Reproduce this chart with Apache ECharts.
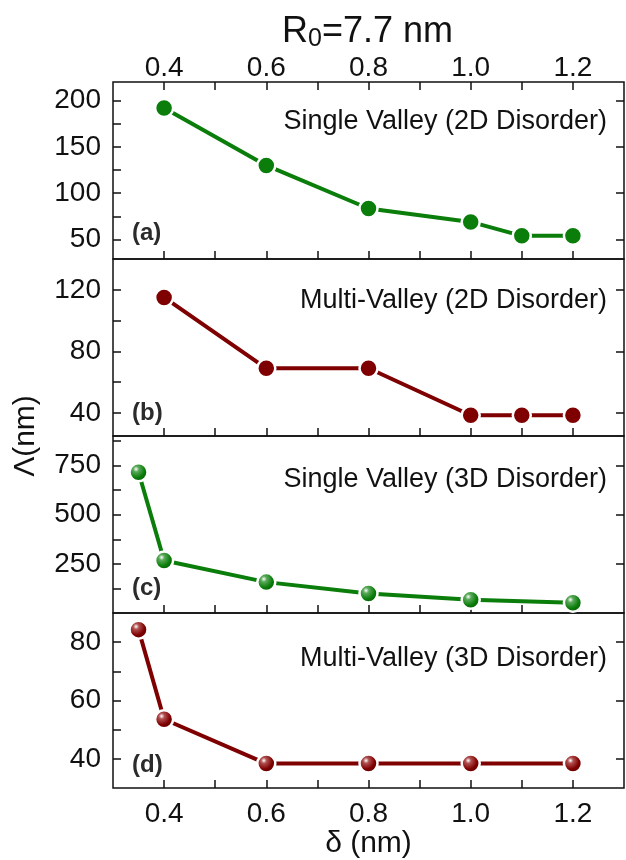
<!DOCTYPE html>
<html>
<head>
<meta charset="utf-8">
<script src="https://cdn.jsdelivr.net/npm/echarts@6/dist/echarts.min.js"></script>
<style>
  html, body { margin: 0; padding: 0; background: #fff; }
  #chart { width: 626px; height: 860px; }
</style>
</head>
<body>
<div id="chart"></div>
<script>
// data
var deltaAB = [0.4, 0.6, 0.8, 1.0, 1.1, 1.2];
var deltaCD = [0.35, 0.4, 0.6, 0.8, 1.0, 1.2];
var lambdaA = [192, 130, 83.5, 69, 54, 54];
var lambdaB = [115, 69, 69, 38.5, 38.5, 38.5];
var lambdaC = [716, 267, 157, 99, 67, 52];
var lambdaD = [84.3, 53.6, 38.4, 38.4, 38.4, 38.4];

var xTicks = [0.4, 0.5, 0.6, 0.7, 0.8, 0.9, 1.0, 1.1, 1.2];
var xLabels = [0.4, 0.6, 0.8, 1.0, 1.2];

var yMinA = 29, yMaxA = 220;
var yMinB = 25, yMaxB = 140;
var yMinC = 0, yMaxC = 900;
var yMinD = 30, yMaxD = 90;

var yTicksA = [50, 75, 100, 125, 150, 175, 200], yLabelsA = [50, 100, 150, 200];
var yTicksB = [40, 60, 80, 100, 120], yLabelsB = [40, 80, 120];
var yTicksC = [125, 250, 375, 500, 625, 750, 875], yLabelsC = [250, 500, 750];
var yTicksD = [40, 50, 60, 70, 80], yLabelsD = [40, 60, 80];

var panelNames = ['Single Valley (2D Disorder)', 'Multi-Valley (2D Disorder)',
                  'Single Valley (3D Disorder)', 'Multi-Valley (3D Disorder)'];
var panelLetters = ['(a)', '(b)', '(c)', '(d)'];

var FONT = '"Liberation Sans", Arial, Helvetica, sans-serif';
var GREEN = '#0a7d0a', RED = '#7f0000';
var tops = [82, 259, 436, 613];
var H = 177;

var panels = [
  { x: deltaAB, y: lambdaA, min: yMinA, max: yMaxA, ticks: yTicksA, labels: yLabelsA, color: GREEN, gloss: false },
  { x: deltaAB, y: lambdaB, min: yMinB, max: yMaxB, ticks: yTicksB, labels: yLabelsB, color: RED, gloss: false },
  { x: deltaCD, y: lambdaC, min: yMinC, max: yMaxC, ticks: yTicksC, labels: yLabelsC, color: GREEN, gloss: true },
  { x: deltaCD, y: lambdaD, min: yMinD, max: yMaxD, ticks: yTicksD, labels: yLabelsD, color: RED, gloss: true }
];

function fmtX(v) { return (Math.round(v * 10) / 10).toFixed(1); }

var grid = [], xAxis = [], yAxis = [], series = [], graphic = [];

panels.forEach(function (p, i) {
  grid.push({ left: 113, width: 511, top: tops[i], height: H, show: true,
              borderColor: '#111', borderWidth: 1.5, backgroundColor: 'transparent' });
  xAxis.push({
    type: 'value', gridIndex: i, min: 0.3, max: 1.3, position: 'bottom',
    axisLine: { show: false }, splitLine: { show: false },
    axisTick: { inside: true, length: 8, customValues: xTicks, lineStyle: { color: '#111', width: 1.5 } },
    axisLabel: { show: i === 3, customValues: xLabels, formatter: fmtX, margin: 12,
                 fontSize: 28, fontFamily: FONT, color: '#111' },
    name: i === 3 ? 'δ (nm)' : '', nameLocation: 'middle', nameGap: 38,
    nameTextStyle: { fontSize: 30, fontFamily: FONT, color: '#111' }
  });
  yAxis.push({
    type: 'value', gridIndex: i, min: p.min, max: p.max, position: 'left',
    axisLine: { show: false }, splitLine: { show: false },
    axisTick: { inside: true, length: 8, customValues: p.ticks, lineStyle: { color: '#111', width: 1.5 } },
    axisLabel: { customValues: p.labels, margin: 12, fontSize: 28, fontFamily: FONT, color: '#111' }
  });

  var fill = p.color;
  if (p.gloss) {
    fill = { type: 'radial', x: 0.38, y: 0.35, r: 0.7,
             colorStops: [{ offset: 0, color: '#ffffff' }, { offset: 0.2, color: p.color === GREEN ? '#5aa95a' : '#b05050' },
                          { offset: 0.6, color: p.color }, { offset: 1, color: p.color === GREEN ? '#065406' : '#520000' }] };
  }
  series.push({
    type: 'line', xAxisIndex: i, yAxisIndex: i,
    data: p.x.map(function (d, k) { return [d, p.y[k]]; }),
    symbol: 'circle', symbolSize: 18, showSymbol: true,
    lineStyle: { color: p.color, width: 4 },
    itemStyle: { color: fill, borderColor: '#fff', borderWidth: 2.5 },
    emphasis: { disabled: true }, animation: false
  });

  graphic.push({
    type: 'text', x: 607, y: tops[i] + 40 + i * 2,
    style: { text: panelNames[i], font: '27px ' + FONT, fill: '#111',
             align: 'right', verticalAlign: 'middle', textAlign: 'right', textVerticalAlign: 'middle' }
  });
  graphic.push({
    type: 'text', x: 132, y: [233, 413, 588, 765][i],
    style: { text: panelLetters[i], font: 'bold 24px ' + FONT, fill: '#2b2b2b',
             align: 'left', verticalAlign: 'middle', textAlign: 'left', textVerticalAlign: 'middle' }
  });
});

// right-hand axes: major ticks only
panels.forEach(function (p, i) {
  yAxis.push({
    type: 'value', gridIndex: i, min: p.min, max: p.max, position: 'right',
    axisLine: { show: false }, splitLine: { show: false },
    axisTick: { inside: true, length: 8, customValues: p.labels, lineStyle: { color: '#111', width: 1.5 } },
    axisLabel: { show: false }
  });
});

// top axis of panel (a)
xAxis.push({
  type: 'value', gridIndex: 0, min: 0.3, max: 1.3, position: 'top',
  axisLine: { show: false }, splitLine: { show: false },
  axisTick: { inside: true, length: 8, customValues: xTicks, lineStyle: { color: '#111', width: 1.5 } },
  axisLabel: { customValues: xLabels, formatter: fmtX, margin: 0, fontSize: 28, fontFamily: FONT, color: '#111' }
});

// y axis title
graphic.push({
  type: 'text', x: 26, y: 436, rotation: Math.PI / 2,
  style: { text: 'Λ(nm)', font: '30px ' + FONT, fill: '#111',
           align: 'center', verticalAlign: 'middle', textAlign: 'center', textVerticalAlign: 'middle' }
});

var chart = echarts.init(document.getElementById('chart'));
chart.setOption({
  animation: false,
  backgroundColor: '#fff',
  title: {
    text: '{a|R}{s|0}{a|=7.7 nm}', left: 277, top: 9,
    textStyle: {
      rich: {
        a: { fontSize: 36, fontWeight: 'normal', fontFamily: FONT, color: '#111', lineHeight: 38, verticalAlign: 'top' },
        s: { fontSize: 25, fontWeight: 'normal', fontFamily: FONT, color: '#111', lineHeight: 25, padding: [21, 0, 0, 0], verticalAlign: 'bottom' }
      }
    }
  },
  grid: grid,
  xAxis: xAxis,
  yAxis: yAxis,
  series: series,
  graphic: graphic
});
</script>
</body>
</html>
